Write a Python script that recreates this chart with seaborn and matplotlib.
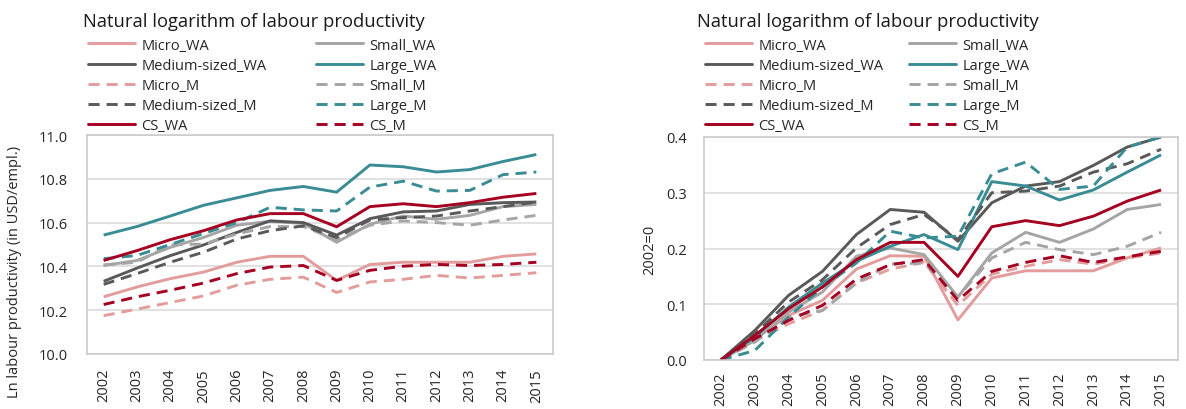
import matplotlib
matplotlib.use("Agg")
import matplotlib.pyplot as plt
import matplotlib.lines as mlines
import seaborn as sns
import numpy as np

years = list(range(2002, 2016))

# Left panel: natural log of labour productivity
micro_wa = [10.261, 10.306, 10.344, 10.374, 10.419, 10.446, 10.446, 10.336, 10.409, 10.419, 10.419, 10.419, 10.446, 10.457]
small_wa = [10.404, 10.427, 10.487, 10.532, 10.588, 10.606, 10.596, 10.510, 10.593, 10.630, 10.615, 10.633, 10.673, 10.683]
medium_wa = [10.332, 10.392, 10.449, 10.498, 10.555, 10.608, 10.600, 10.543, 10.618, 10.649, 10.653, 10.683, 10.691, 10.694]
large_wa = [10.543, 10.582, 10.630, 10.679, 10.713, 10.747, 10.765, 10.739, 10.863, 10.855, 10.831, 10.842, 10.879, 10.911]
micro_m = [10.175, 10.205, 10.235, 10.265, 10.314, 10.341, 10.351, 10.281, 10.329, 10.341, 10.359, 10.347, 10.359, 10.371]
small_m = [10.407, 10.419, 10.498, 10.502, 10.548, 10.582, 10.582, 10.522, 10.588, 10.608, 10.600, 10.588, 10.612, 10.633]
medium_m = [10.318, 10.367, 10.419, 10.465, 10.525, 10.563, 10.585, 10.532, 10.612, 10.623, 10.630, 10.653, 10.673, 10.694]
large_m = [10.435, 10.450, 10.500, 10.550, 10.600, 10.670, 10.658, 10.653, 10.762, 10.789, 10.744, 10.747, 10.819, 10.831]
cs_wa = [10.427, 10.472, 10.522, 10.563, 10.612, 10.641, 10.641, 10.581, 10.673, 10.686, 10.673, 10.691, 10.716, 10.733]
cs_m = [10.226, 10.261, 10.291, 10.324, 10.367, 10.397, 10.404, 10.336, 10.382, 10.401, 10.409, 10.404, 10.409, 10.419]

# Right panel: change relative to 2002 (2002=0)
micro_wa_r = [0.0, 0.038, 0.080, 0.107, 0.163, 0.187, 0.186, 0.072, 0.147, 0.160, 0.160, 0.160, 0.183, 0.201]
small_wa_r = [0.0, 0.035, 0.086, 0.122, 0.186, 0.201, 0.189, 0.113, 0.192, 0.229, 0.211, 0.235, 0.270, 0.279]
medium_wa_r = [0.0, 0.053, 0.116, 0.159, 0.225, 0.270, 0.265, 0.213, 0.282, 0.312, 0.320, 0.349, 0.382, 0.400]
large_wa_r = [0.0, 0.041, 0.095, 0.138, 0.177, 0.204, 0.225, 0.198, 0.320, 0.312, 0.287, 0.305, 0.337, 0.368]
micro_m_r = [0.0, 0.035, 0.065, 0.089, 0.138, 0.163, 0.175, 0.098, 0.154, 0.168, 0.180, 0.172, 0.183, 0.192]
small_m_r = [0.0, 0.032, 0.077, 0.089, 0.138, 0.172, 0.174, 0.113, 0.183, 0.211, 0.198, 0.189, 0.204, 0.229]
medium_m_r = [0.0, 0.047, 0.104, 0.144, 0.201, 0.243, 0.261, 0.216, 0.300, 0.303, 0.312, 0.337, 0.352, 0.378]
large_m_r = [0.0, 0.017, 0.077, 0.131, 0.174, 0.231, 0.219, 0.222, 0.334, 0.355, 0.306, 0.312, 0.382, 0.400]
cs_wa_r = [0.0, 0.044, 0.092, 0.131, 0.180, 0.211, 0.211, 0.150, 0.239, 0.250, 0.241, 0.258, 0.285, 0.305]
cs_m_r = [0.0, 0.038, 0.071, 0.098, 0.145, 0.171, 0.180, 0.107, 0.159, 0.175, 0.187, 0.175, 0.185, 0.195]

names = ["Micro_WA", "Small_WA", "Medium-sized_WA", "Large_WA",
         "Micro_M", "Small_M", "Medium-sized_M", "Large_M", "CS_WA", "CS_M"]

title_text = "Natural logarithm of labour productivity"
left_ylabel = "Ln labour productivity (in USD/empl.)"
right_ylabel = "2002=0"

C_MICRO = "#E39C9C"
C_SMALL = "#A5A5A5"
C_MED = "#595959"
C_LARGE = "#3A8C94"
C_CS = "#A50021"
colors = [C_MICRO, C_SMALL, C_MED, C_LARGE, C_MICRO, C_SMALL, C_MED, C_LARGE, C_CS, C_CS]
dashed = [False, False, False, False, True, True, True, True, False, True]

sns.set_style("white")
plt.rcParams['font.family'] = ['Open Sans', 'DejaVu Sans']

fig = plt.figure(figsize=(11.86, 4.10), dpi=100)
axL = fig.add_axes([87/1186, 1-355/410, (553-87)/1186, (355-136)/410])
axR = fig.add_axes([704/1186, 1-361/410, (1178-704)/1186, (361-138)/410])

left_series = [micro_wa, small_wa, medium_wa, large_wa, micro_m, small_m, medium_m, large_m, cs_wa, cs_m]
right_series = [micro_wa_r, small_wa_r, medium_wa_r, large_wa_r, micro_m_r, small_m_r, medium_m_r, large_m_r, cs_wa_r, cs_m_r]

LW = 2.1
DASH = (3.8, 2.4)

def draw(ax, series_list):
    for name, vals, col, d in zip(names, series_list, colors, dashed):
        sns.lineplot(x=years, y=vals, ax=ax, color=col, linewidth=LW, legend=False)
        line = ax.lines[-1]
        if d:
            line.set_dashes(DASH)
        line.set_solid_capstyle('butt')
    ax.set_xlim(2001.5, 2015.5)
    ax.set_xticks(years)
    ax.set_xticklabels([str(y) for y in years], rotation=90, fontsize=10.5)
    ax.grid(axis='y', color='#D9D9D9', linewidth=1.1)
    ax.grid(axis='x', visible=False)
    ax.set_axisbelow(True)
    for s in ax.spines.values():
        s.set_color('#C8C8C8')
        s.set_linewidth(1.1)
    ax.set_xlabel("")
    ax.set_ylabel("")

draw(axL, left_series)
axL.set_ylim(10.0, 11.0)
axL.set_yticks(np.arange(10.0, 11.01, 0.2))
axL.set_yticklabels([f"{v:.1f}" for v in np.arange(10.0, 11.01, 0.2)], fontsize=10.5)
axL.tick_params(axis='y', length=0, pad=14)
axL.tick_params(axis='x', length=0, pad=10)

draw(axR, right_series)
axR.set_ylim(0.0, 0.4)
axR.set_yticks(np.arange(0.0, 0.401, 0.1))
axR.set_yticklabels([f"{v:.1f}" for v in np.arange(0.0, 0.401, 0.1)], fontsize=10.5)
axR.tick_params(axis='y', length=0, pad=12)
axR.tick_params(axis='x', length=0, pad=8)

# Titles
fig.text(83/1186, 1-27/410, title_text, fontsize=13.2, va='baseline', ha='left', color='#1a1a1a')
fig.text(697/1186, 1-27/410, title_text, fontsize=13.2, va='baseline', ha='left', color='#1a1a1a')

# Y labels
fig.text(15/1186, 1-272/410, left_ylabel, rotation=90, fontsize=10.5, va='center', ha='center')
fig.text(650/1186, 1-250/410, right_ylabel, rotation=90, fontsize=10.5, va='center', ha='center')

# Legends: two columns each, rows left to right
def handle(i):
    h = mlines.Line2D([], [], color=colors[i], linewidth=LW)
    if dashed[i]:
        h.set_dashes(DASH)
    return h

col1 = [0, 2, 4, 6, 8]
col2 = [1, 3, 5, 7, 9]
ytop = 1 - 38.5/410
for xpos, idxs in [(88, col1), (316, col2), (705, col1), (909, col2)]:
    fig.legend([handle(i) for i in idxs], [names[i] for i in idxs],
               loc='upper left', bbox_to_anchor=(xpos/1186, ytop),
               bbox_transform=fig.transFigure, frameon=False,
               fontsize=10.5, handlelength=3.2, handletextpad=0.45,
               labelspacing=0.35, borderpad=0, borderaxespad=0)

fig.savefig("out.png", dpi=100)
